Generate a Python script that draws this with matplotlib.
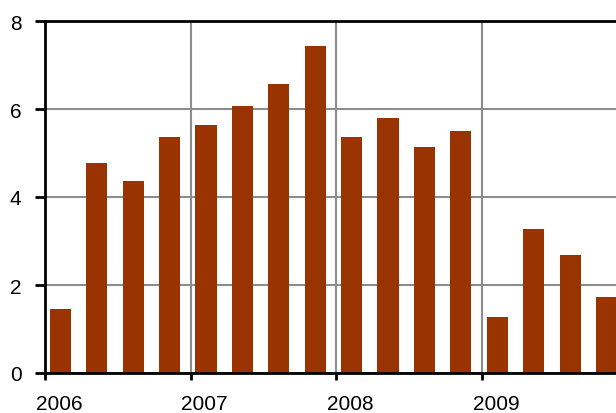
import matplotlib
matplotlib.use("Agg")
import matplotlib.pyplot as plt
import numpy as np

plt.rcParams['font.family'] = ['Liberation Sans', 'DejaVu Sans']

years = [2006, 2007, 2008, 2009]
year_labels = ["2006", "2007", "2008", "2009"]
# quarterly values, 4 per year
values = [1.45, 4.77, 4.36, 5.36,
          5.64, 6.07, 6.57, 7.43,
          5.36, 5.80, 5.14, 5.50,
          1.27, 3.27, 2.68, 1.73]
y_ticks = [0, 2, 4, 6, 8]

bar_color = "#993300"
grid_color = "#8c8c8c"

fig = plt.figure(figsize=(6.16, 4.14), dpi=100)
ax = fig.add_axes([45 / 616, 40 / 414, 571 / 616, 352 / 414])

xpos = []
for y in years:
    for q in range(4):
        xpos.append(y + 0.105 + 0.25 * q)

ax.bar(xpos, values, width=0.145, color=bar_color, zorder=3)

ax.set_xlim(2006, 2009.92)
ax.set_ylim(0, 8)

ax.set_yticks(y_ticks)
ax.set_yticklabels([str(t) for t in y_ticks], fontsize=15)

# tick marks at year boundaries, labels shifted slightly right (minor ticks)
ax.set_xticks(years)
ax.set_xticklabels([])
ax.set_xticks([y + 0.097 for y in years], minor=True)
ax.set_xticklabels(year_labels, minor=True, fontsize=15)

ax.tick_params(axis='y', length=7, width=2, pad=10)
ax.tick_params(axis='x', which='major', length=5, width=2)
ax.tick_params(axis='x', which='minor', length=0, pad=15)

ax.grid(True, which='major', color=grid_color, linewidth=1.5, zorder=1)

for side in ['left', 'bottom', 'top']:
    ax.spines[side].set_linewidth(2)
    ax.spines[side].set_color('black')
    ax.spines[side].set_zorder(4)
ax.spines['right'].set_visible(False)

fig.savefig("out.png", dpi=100)
